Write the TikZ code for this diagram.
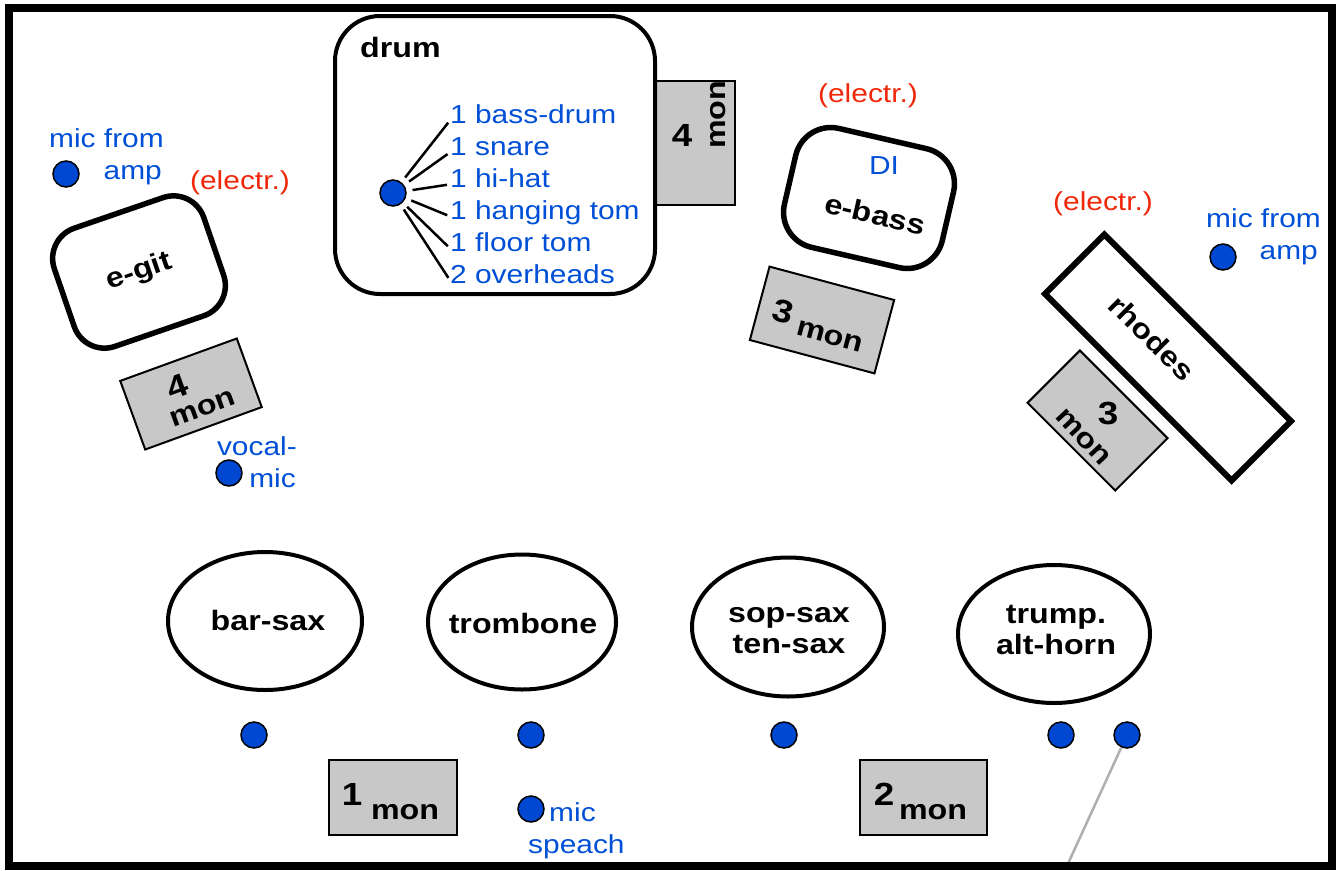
\documentclass[tikz,border=0pt]{standalone}
\usepackage{fontspec}
\setmainfont[FakeStretch=1.15]{Liberation Sans}
\usetikzlibrary{shapes.geometric}
\definecolor{tblue}{RGB}{0,80,215}
\definecolor{dotblue}{RGB}{0,72,210}
\definecolor{tred}{RGB}{240,40,10}
\definecolor{mongray}{RGB}{200,200,200}
\definecolor{lgray}{RGB}{175,175,175}
\begin{document}
\begin{tikzpicture}[x=1pt,y=-1pt,
  lbl/.style={font=\fontsize{28}{31}\selectfont\bfseries, inner sep=0pt, align=center},
  num/.style={font=\fontsize{32}{34}\selectfont\bfseries, inner sep=0pt},
  btxt/.style={text=tblue, font=\fontsize{26}{32}\selectfont, inner sep=0pt},
  rtxt/.style={text=tred, font=\fontsize{26}{32}\selectfont, inner sep=0pt},
  mic/.style={circle, draw=black, line width=1.5pt, fill=dotblue, minimum size=26pt, inner sep=0pt},
  monbox/.style={draw=black, line width=2pt, fill=mongray, inner sep=0pt},
  ampbox/.style={draw=black, line width=5.5pt, rounded corners=32pt, fill=white, inner sep=0pt},
  player/.style={ellipse, draw=black, line width=4pt, fill=white, inner sep=0pt},
  spoke/.style={line width=2.5pt, shorten <=6pt, shorten >=3pt},
  gline/.style={draw=lgray, line width=2.5pt}
]
\useasboundingbox (0,0) rectangle (1338,870);

% ---------- drum ----------
\node[monbox, minimum width=80pt, minimum height=124pt] (mondrum) at (695,142.5) {};
\node[num] at (682,135) {4};
\node[lbl, rotate=90] at (718,115) {mon};
\node[draw=black, line width=4pt, rounded corners=45pt, fill=white,
      minimum width=320pt, minimum height=278pt] (drum) at (495,155) {};
\node[lbl, anchor=base west] (drumlbl) at (360,57) {drum};
\node[mic] (drumic) at (393,193) {};
\foreach \t [count=\i] in {1 bass-drum, 1 snare, 1 hi-hat, 1 hanging tom, 1 floor tom, 2 overheads}{
  \node[btxt, anchor=base west] (dl\i) at (450,{91+32*\i}) {\t};
  \draw[spoke] (drumic) -- (dl\i.mid west);
}

% ---------- e-git ----------
\node[btxt, anchor=base east] (ampl1) at (164,147) {mic from};
\node[btxt, anchor=base east] (ampl2) at (162,179) {amp};
\node[mic] (micl) at (66,174) {};
\node[rtxt, anchor=base] (elec1) at (240,189) {(electr.)};
\node[ampbox, minimum width=158pt, minimum height=125pt, rotate=19,
      font=\fontsize{28}{31}\selectfont\bfseries] (egit) at (139,272) {e-git};
\begin{scope}[shift={(191,394)}, rotate=20, transform shape]
  \node[monbox, minimum width=124pt, minimum height=73pt] (mongit) at (0,0) {};
  \node[num] at (-10,-11) {4};
  \node[lbl] at (6,18) {mon};
\end{scope}
\node[btxt, anchor=base east] (voc1) at (297,455) {vocal-};
\node[btxt, anchor=base east] (voc2) at (296,487) {mic};
\node[mic] (vocmic) at (229,473) {};

% ---------- e-bass ----------
\node[rtxt, anchor=base] (elec2) at (868,102) {(electr.)};
\node[ampbox, minimum width=162pt, minimum height=122pt, rotate=-13, rounded corners=36pt] (ebass) at (869,198) {};
\node[btxt, anchor=base] (di) at (884,174) {DI};
\node[lbl, rotate=-13] at (875,214) {e-bass};
\begin{scope}[shift={(822,320)}, rotate=-15, transform shape]
  \node[monbox, minimum width=129pt, minimum height=76pt] (monbass) at (0,0) {};
  \node[num] at (-40,2) {3};
  \node[lbl] at (12,14) {mon};
\end{scope}

% ---------- rhodes ----------
\node[rtxt, anchor=base] (elec3) at (1103,210) {(electr.)};
\node[btxt, anchor=base east] (ampr1) at (1321,227) {mic from};
\node[btxt, anchor=base east] (ampr2) at (1318,259) {amp};
\node[mic] (micr) at (1223,257) {};
\node[monbox, minimum width=124pt, minimum height=74pt, rotate=-45] (monrh) at (1097.5,420.5) {};
\node[num] at (1108,414) {3};
\node[lbl, rotate=-47] at (1083,437) {mon};
\node[draw=black, line width=6pt, fill=white, minimum width=264pt, minimum height=84pt,
      rotate=-45] (rhodes) at (1168,357.5) {};
\node[lbl, rotate=-45] at (1152,338) {rhodes};

% ---------- horns ----------
\node[player, minimum width=194pt, minimum height=138pt] (barsax) at (265,621) {};
\node[lbl] at (268,620) {bar-sax};
\node[player, minimum width=188pt, minimum height=135pt] (tromb) at (522,622) {};
\node[lbl] at (523,623) {trombone};
\node[player, minimum width=192pt, minimum height=139pt] (sopsax) at (788,627) {};
\node[lbl] at (789,631) {sop-sax\\ten-sax};
\node[player, minimum width=192pt, minimum height=138pt] (trump) at (1054,634) {};
\node[lbl] at (1056,630) {trump.\\alt-horn};

\node[mic] (m1) at (254,735) {};
\node[mic] (m2) at (531,735) {};
\node[mic] (m3) at (784,735) {};
\node[mic] (m4) at (1061,735) {};
\node[mic] (m5) at (1127,735) {};
\coordinate (gend) at (1066,868);
\draw[gline] (m5) -- (gend);

\node[monbox, minimum width=128pt, minimum height=75pt] (mon1) at (393,797.5) {};
\node[num] at (352,794) {1};
\node[lbl] at (405,812) {mon};
\node[monbox, minimum width=127pt, minimum height=75pt] (mon2) at (923.5,797.5) {};
\node[num] at (884,794) {2};
\node[lbl] at (933,812) {mon};

\node[mic] (spmic) at (531,809) {};
\node[btxt, anchor=base west] (sp1) at (549,821) {mic};
\node[btxt, anchor=base west] (sp2) at (528,853) {speach};

% ---------- frame ----------
\draw[line width=8pt] (9,8) rectangle (1332,866);
\end{tikzpicture}
\end{document}
